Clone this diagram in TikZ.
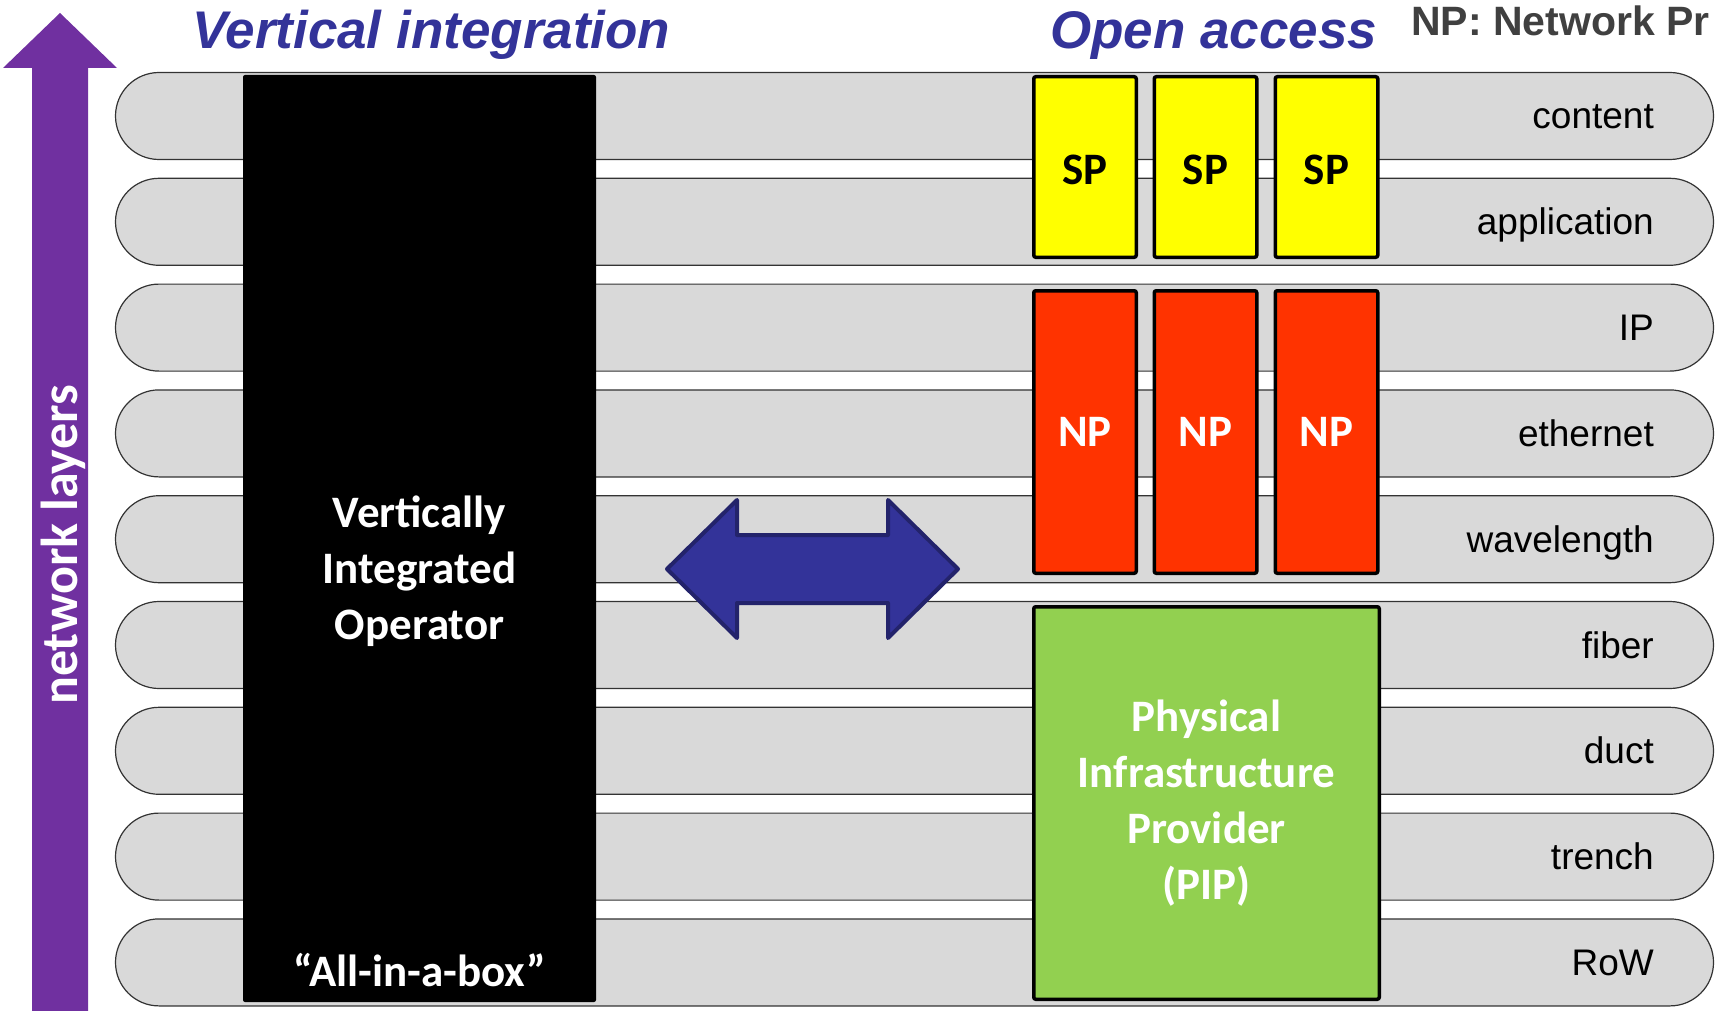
\documentclass[tikz,border=0pt]{standalone}
\usepackage{fontspec}
\setmainfont{Carlito}
\newfontfamily\arialf{Liberation Sans}
\usetikzlibrary{shapes.misc}
\definecolor{navy}{HTML}{333399}
\definecolor{navyd}{HTML}{23236B}
\definecolor{purp}{HTML}{7030A0}
\definecolor{bandgray}{HTML}{D9D9D9}
\definecolor{spy}{HTML}{FFFF00}
\definecolor{npred}{HTML}{FF3300}
\definecolor{pipg}{HTML}{92D050}
\definecolor{notegray}{HTML}{404040}
\begin{document}
\begin{tikzpicture}[x=1pt,y=-1pt,
  band/.style={rounded rectangle, draw=black!80, line width=1.2pt, fill=bandgray,
    minimum width=1598pt, minimum height=87pt, inner sep=0pt},
  layerlbl/.style={font=\arialf\fontsize{37}{44}\selectfont, anchor=base east, inner sep=0pt},
  whitetxt/.style={text=white, inner sep=0pt, font=\bfseries\fontsize{45}{56}\selectfont, align=center},
  provbox/.style={draw=black, line width=3.5pt, rounded corners=2pt, inner sep=0pt,
    font=\bfseries\fontsize{45}{56}\selectfont, align=center},
  spbox/.style={provbox, fill=spy, text=black, minimum width=102.5pt, minimum height=180.5pt, text height=36pt},
  npbox/.style={provbox, fill=npred, text=white, minimum width=102.5pt, minimum height=282.5pt},
  titletxt/.style={font=\arialf\bfseries\itshape\fontsize{53}{64}\selectfont, text=navy, anchor=base west, inner sep=0pt}
]
\useasboundingbox (0,0) rectangle (1715,1011);

% layer bands
\foreach \lbl [count=\i from 0] in {content,application,IP,ethernet,wavelength,fiber,duct,trench,RoW} {
  \node[band] (band\i) at (914.5, {116+105.8*\i}) {};
  \node[layerlbl] (lbl\i) at (1654, {129+105.8*\i}) {\lbl};
}

% purple network-layers arrow
\fill[purp] (60,13) -- (117,68) -- (88,68) -- (88,1011) -- (32,1011) -- (32,68) -- (3,68) -- cycle;
\node[rotate=90, anchor=base, inner sep=0pt, text=white,
      font=\bfseries\fontsize{52}{62}\selectfont] (netlayers) at (77,545) {network layers};

% titles
\node[titletxt] (vititle) at (192,49) {Vertical integration};
\node[titletxt] (oatitle) at (1050,49) {Open access};
\node[anchor=base west, inner sep=0pt, text=notegray,
      font=\arialf\bfseries\fontsize{41}{50}\selectfont] (npnote) at (1411,36) {NP: Network Pr};

% vertically integrated operator
\node[fill=black, rounded corners=2pt, minimum width=353pt, minimum height=927pt, inner sep=0pt] (vio) at (419.5,538.5) {};
\node[whitetxt] (viotxt) at (419.5,571) {Vertically\\Integrated\\Operator};
\node[whitetxt, anchor=base] (aiab) at (419.5,986) {``All-in-a-box''};

% double arrow
\draw[fill=navy, draw=navyd, line width=4pt, line join=round]
  (667,569) -- (737,500) -- (737,535) -- (888,535) -- (888,500) -- (958,569)
  -- (888,638) -- (888,603) -- (737,603) -- (737,638) -- cycle;

% service providers
\node[spbox] (sp1) at (1085,167) {SP};
\node[spbox] (sp2) at (1205.5,167) {SP};
\node[spbox] (sp3) at (1326.5,167) {SP};

% network providers
\node[npbox] (np1) at (1085,432) {NP};
\node[npbox] (np2) at (1205.5,432) {NP};
\node[npbox] (np3) at (1326.5,432) {NP};

% physical infrastructure provider
\node[provbox, fill=pipg, text=white, minimum width=345.5pt, minimum height=392.5pt] (pip) at (1206.5,803)
  {Physical\\Infrastructure\\Provider\\(PIP)};
\end{tikzpicture}
\end{document}
